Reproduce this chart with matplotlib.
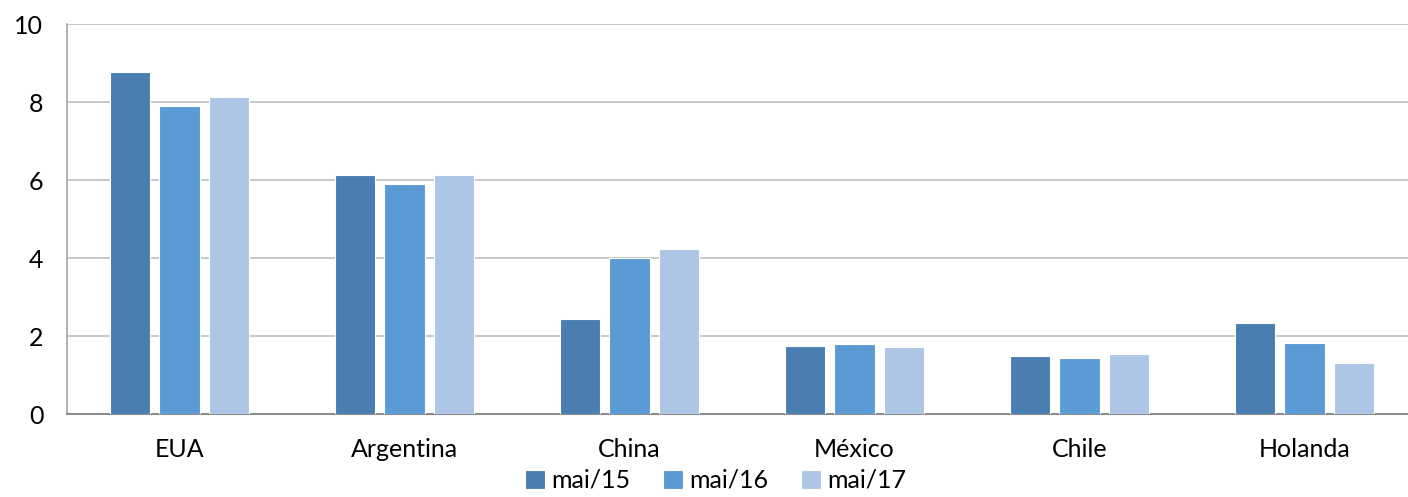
import numpy as np
import matplotlib.pyplot as plt

paises = ['EUA', 'Argentina', 'China', 'México', 'Chile', 'Holanda']
series = ['mai/15', 'mai/16', 'mai/17']
mai15 = [8.77, 6.13, 2.44, 1.75, 1.49, 2.33]
mai16 = [7.90, 5.91, 4.00, 1.80, 1.44, 1.82]
mai17 = [8.13, 6.14, 4.23, 1.73, 1.54, 1.31]
cores = ['#4A7EB0', '#5B9BD5', '#ADC6E6']

plt.rcParams['font.family'] = ['Lato', 'DejaVu Sans']

fig = plt.figure(figsize=(14.08, 4.97), dpi=100)
ax = fig.add_axes([67/1408, 83/497, 1350/1408, 390/497])

x = np.arange(len(paises))
w = 0.178
passo = 0.222
for i, (vals, nome) in enumerate(zip([mai15, mai16, mai17], series)):
    ax.bar(x + (i - 1) * passo, vals, w, color=cores[i], label=nome,
           edgecolor='white', linewidth=0.8, zorder=3)

ax.set_xlim(-0.5, 5.5)
ax.set_ylim(0, 10)
ax.set_yticks([0, 2, 4, 6, 8, 10])
ax.set_xticks(x)
ax.set_xticklabels(paises)
ax.tick_params(axis='both', length=0, labelsize=18, colors='black')
ax.tick_params(axis='x', pad=17)
ax.tick_params(axis='y', pad=17)
ax.grid(axis='y', color='#BFBFBF', linewidth=1.2, zorder=0)
for s in ['top', 'right']:
    ax.spines[s].set_visible(False)
ax.spines['left'].set_color('#A6A6A6')
ax.spines['left'].set_linewidth(1.2)
ax.spines['bottom'].set_color('#8C8C8C')
ax.spines['bottom'].set_linewidth(1.5)

fig.legend(loc='lower center', bbox_to_anchor=(0.508, -0.035), ncol=3, frameon=False,
           fontsize=18, handlelength=0.8, handleheight=0.8, handletextpad=0.25,
           columnspacing=1.3)

fig.savefig('out.png', dpi=100)
